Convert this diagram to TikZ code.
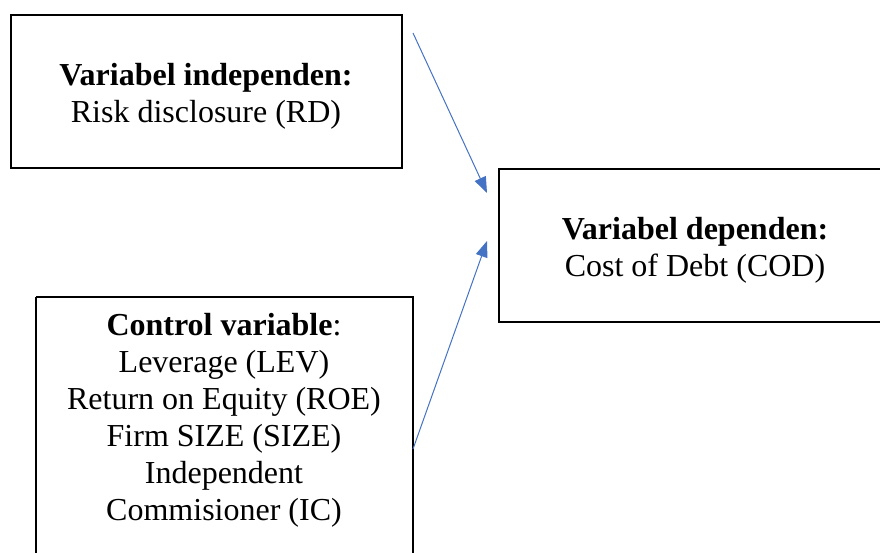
\documentclass[tikz,border=0pt]{standalone}
\usepackage{fontspec}
\setmainfont{Liberation Serif}
\usetikzlibrary{arrows.meta}
\definecolor{arrowblue}{HTML}{4472C4}
\begin{document}
\begin{tikzpicture}[x=1pt,y=-1pt,
  box/.style={draw=black, line width=2pt},
  thinbox/.style={draw=black, line width=1.5pt},
  lbl/.style={font=\fontsize{32}{37}\selectfont, align=center, inner sep=0pt},
  conn/.style={draw=arrowblue, line width=1pt, -{Triangle[length=16pt,width=12pt]}}]
\useasboundingbox (0,0) rectangle (880,552);
\clip (0,0) rectangle (880,552);
% boxes
\draw[box] (11,15) rectangle (402,168);
\draw[box] (499,169) rectangle (895,322);
\draw[thinbox] (36,297) -- (413,297) -- (413,560) (36,560) -- (36,297);
% texts
\node[lbl] (indep) at (206,96) {\textbf{Variabel independen:}\\Risk disclosure (RD)};
\node[lbl] (dep) at (695,250) {\textbf{Variabel dependen:}\\Cost of Debt (COD)};
\node[lbl] (ctrl) at (224,420) {\textbf{Control variable}:\\Leverage (LEV)\\Return on Equity (ROE)\\Firm SIZE (SIZE)\\Independent\\Commisioner (IC)};
% connectors
\coordinate (s1) at (413,33);
\coordinate (t1) at (487,193);
\coordinate (s2) at (413,449);
\coordinate (t2) at (487,241);
\draw[conn] (s1) -- (t1);
\draw[conn] (s2) -- (t2);
\end{tikzpicture}
\end{document}
